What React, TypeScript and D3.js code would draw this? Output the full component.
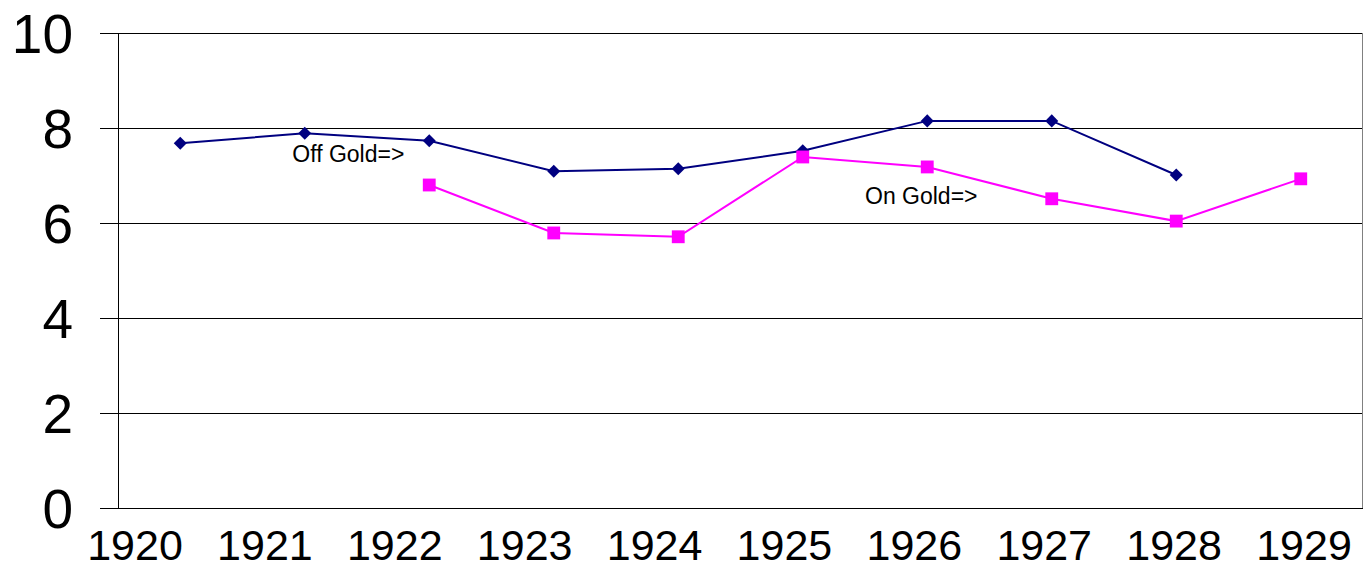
import React, { useEffect, useRef } from "react";
import * as d3 from "d3";

// categories and series
const years = ["1920", "1921", "1922", "1923", "1924", "1925", "1926", "1927", "1928", "1929"];
const offGold = [7.68, 7.89, 7.73, 7.09, 7.14, 7.52, 8.15, 8.15, 7.01, null];
const onGold = [null, null, 6.8, 5.79, 5.71, 7.39, 7.18, 6.51, 6.04, 6.93];
const yTicks = [0, 2, 4, 6, 8, 10];

// text notes inside the plot, placed in data units
const notes = [
  { label: "Off Gold=>", year: "1921", shift: -0.1, value: 7.28 },
  { label: "On Gold=>", year: "1925", shift: 0.5, value: 6.4 },
];

const FONT = "'Liberation Sans', Arial, sans-serif";

export default function App() {
  const ref = useRef<SVGSVGElement>(null);

  useEffect(() => {
    const width = 1365, height = 568;
    const margin = { top: 33, right: 2, bottom: 60, left: 118 };
    const w = width - margin.left - margin.right;
    const h = height - margin.top - margin.bottom;

    const svg = d3.select(ref.current);
    svg.selectAll("*").remove();
    const g = svg.append("g").attr("transform", `translate(${margin.left}, ${margin.top})`);

    const x = d3.scaleBand().domain(years).range([0, w]);
    const y = d3.scaleLinear().domain([0, 10]).range([h, 0]);
    // Excel spreads the crowded year labels a little differently from the points
    const xLabel = d3.scalePoint().domain(years).range([135 - margin.left, 1304 - margin.left]);
    const cx = (d: string) => (x(d) as number) + x.bandwidth() / 2;

    // gridlines + ticks
    g.selectAll(".grid")
      .data(yTicks)
      .join("line")
      .attr("class", "grid")
      .attr("x1", -18)
      .attr("x2", w)
      .attr("y1", (d) => Math.round(y(d)) + 0.5)
      .attr("y2", (d) => Math.round(y(d)) + 0.5)
      .attr("stroke", "#000")
      .attr("stroke-width", 1);

    // left axis line and right border
    g.append("line").attr("x1", 0.5).attr("x2", 0.5).attr("y1", 0).attr("y2", h).attr("stroke", "#000");
    g.append("line").attr("x1", w - 0.5).attr("x2", w - 0.5).attr("y1", 0).attr("y2", h).attr("stroke", "#808080");

    // y labels
    g.selectAll(".ylab")
      .data(yTicks)
      .join("text")
      .attr("class", "ylab")
      .attr("x", 73 - margin.left)
      .attr("y", (d) => y(d) + 20)
      .attr("text-anchor", "end")
      .style("font-family", FONT)
      .style("font-size", "55px")
      .text((d) => d);

    // x labels
    g.selectAll(".xlab")
      .data(years)
      .join("text")
      .attr("class", "xlab")
      .attr("x", (d) => xLabel(d) as number)
      .attr("y", h + 52)
      .attr("text-anchor", "middle")
      .style("font-family", FONT)
      .style("font-size", "43px")
      .text((d) => d);

    const drawSeries = (vals: (number | null)[], color: string, symbol: d3.SymbolType, size: number, rot: number) => {
      const pts = years.map((yr, i) => ({ yr, v: vals[i] })).filter((p) => p.v != null) as { yr: string; v: number }[];
      const line = d3.line<{ yr: string; v: number }>().x((d) => cx(d.yr)).y((d) => y(d.v));
      g.append("path").datum(pts).attr("d", line).attr("fill", "none").attr("stroke", color).attr("stroke-width", 2);
      g.append("g")
        .selectAll("path")
        .data(pts)
        .join("path")
        .attr("transform", (d) => `translate(${cx(d.yr)}, ${y(d.v)}) rotate(${rot})`)
        .attr("d", d3.symbol(symbol, size)())
        .attr("fill", color);
    };

    drawSeries(offGold, "#000080", d3.symbolSquare, 85, 45);
    drawSeries(onGold, "#FF00FF", d3.symbolSquare, 165, 0);

    g.selectAll(".note")
      .data(notes)
      .join("text")
      .attr("class", "note")
      .attr("x", (d) => cx(d.year) + d.shift * x.bandwidth())
      .attr("y", (d) => y(d.value))
      .style("font-family", FONT)
      .style("font-size", "23px")
      .text((d) => d.label);
  }, []);

  return (
    <svg
      ref={ref}
      width={1365}
      height={568}
      style={{ position: "absolute", left: 0, top: 0, background: "#fff" }}
    />
  );
}
